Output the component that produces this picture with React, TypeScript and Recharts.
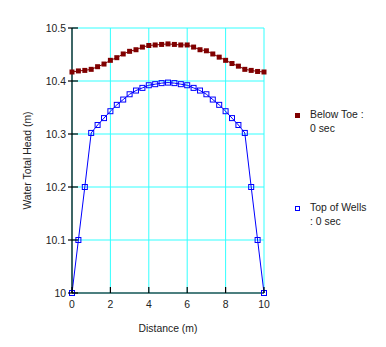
import { LineChart, Line, XAxis, YAxis, CartesianGrid } from "recharts";

// Distance along the section (m)
const distance = [
  0, 0.333, 0.667, 1, 1.333, 1.667, 2, 2.333, 2.667, 3, 3.333, 3.667, 4, 4.333, 4.667, 5,
  5.333, 5.667, 6, 6.333, 6.667, 7, 7.333, 7.667, 8, 8.333, 8.667, 9, 9.333, 9.667, 10,
];

// Water total head (m) below the toe at 0 sec
const belowToe = [
  10.417, 10.419, 10.42, 10.422, 10.427, 10.432, 10.439, 10.444, 10.451, 10.456, 10.459,
  10.464, 10.467, 10.468, 10.469, 10.47, 10.469, 10.468, 10.468, 10.464, 10.459, 10.457,
  10.451, 10.445, 10.439, 10.433, 10.428, 10.422, 10.42, 10.418, 10.417,
];

// Water total head (m) at the top of the wells at 0 sec
const topOfWells = [
  10.0, 10.1, 10.2, 10.302, 10.317, 10.33, 10.343, 10.355, 10.365, 10.375, 10.382, 10.387,
  10.392, 10.394, 10.396, 10.397, 10.396, 10.394, 10.392, 10.387, 10.382, 10.375, 10.365,
  10.355, 10.343, 10.33, 10.317, 10.302, 10.2, 10.1, 10.0,
];

const xTicks = [0, 2, 4, 6, 8, 10];
const yTicks = [10, 10.1, 10.2, 10.3, 10.4, 10.5];

const seriesNames = ["Below Toe :", "Top of Wells"];
const seriesTimes = ["0 sec", ": 0 sec"];

const chartData = distance.map((d, i) => ({
  x: d,
  belowToe: belowToe[i],
  topOfWells: topOfWells[i],
}));

const FONT = "Arial, 'Liberation Sans', sans-serif";
const TEXT = "#222";

const fmt = (v: number) => String(Number(v.toFixed(1)));

function YTick(props: any) {
  const { x, y, payload } = props;
  const axisX = x + 6;
  return (
    <g>
      <line x1={axisX - 4} x2={axisX + 6} y1={y} y2={y} stroke="#000" strokeWidth={1.2} />
      <text x={x} y={y} dy="0.35em" textAnchor="end" fontSize={10.4} fontFamily={FONT} fill={TEXT}>
        {fmt(payload.value)}
      </text>
    </g>
  );
}

function XTick(props: any) {
  const { x, y, payload } = props;
  const axisY = y - 8;
  return (
    <g>
      <line x1={x} x2={x} y1={axisY} y2={axisY - 6} stroke="#000" strokeWidth={1.2} />
      <text x={x} y={y} dy="0.71em" textAnchor="middle" fontSize={10.4} fontFamily={FONT} fill={TEXT}>
        {payload.value}
      </text>
    </g>
  );
}

function FilledSquare(props: any) {
  const { cx, cy } = props;
  if (cx == null || cy == null) return null;
  return <rect x={cx - 2.5} y={cy - 2.5} width={5} height={5} fill="#800000" />;
}

function HollowSquare(props: any) {
  const { cx, cy } = props;
  if (cx == null || cy == null) return null;
  return (
    <rect x={cx - 2.5} y={cy - 2.5} width={5} height={5} fill="none" stroke="#0000ff" strokeWidth={1} />
  );
}

function ChartLegend() {
  const itemStyle = { position: "relative" as const, paddingLeft: 20, lineHeight: "14px" };
  const text = { fontSize: 10.4, fontFamily: FONT, color: TEXT };
  return (
    <div style={{ position: "absolute", left: 290, top: 108, width: 96 }}>
      <div style={itemStyle}>
        <span
          style={{ position: "absolute", left: 5, top: 5, width: 5, height: 5, background: "#800000" }}
        />
        <div style={text}>{seriesNames[0]}</div>
        <div style={text}>{seriesTimes[0]}</div>
      </div>
      <div style={{ ...itemStyle, marginTop: 65 }}>
        <span
          style={{
            position: "absolute",
            left: 5,
            top: 5,
            width: 3,
            height: 3,
            border: "1px solid #0000ff",
          }}
        />
        <div style={text}>{seriesNames[1]}</div>
        <div style={text}>{seriesTimes[1]}</div>
      </div>
    </div>
  );
}

export default function App() {
  return (
    <div style={{ position: "absolute", left: 0, top: 0, width: 386, height: 347, background: "#fff" }}>
      <LineChart
        width={386}
        height={347}
        data={chartData}
        margin={{ top: 28, right: 122, bottom: 0, left: 0 }}
      >
        <CartesianGrid stroke="#33ffff" strokeWidth={1} />
        <XAxis
          dataKey="x"
          type="number"
          domain={[0, 10]}
          ticks={xTicks}
          height={54}
          tickSize={4}
          tickMargin={4}
          tickLine={false}
          axisLine={{ stroke: "#000", strokeWidth: 1.2 }}
          tick={<XTick />}
          label={{
            value: "Distance (m)",
            position: "insideBottom",
            offset: 15,
            fontSize: 10.4,
            fontFamily: FONT,
            fill: TEXT,
          }}
        />
        <YAxis
          type="number"
          domain={[10, 10.5]}
          ticks={yTicks}
          width={72}
          tickSize={4}
          tickMargin={2}
          tickLine={false}
          axisLine={{ stroke: "#000", strokeWidth: 1.2 }}
          tick={<YTick />}
          label={{
            value: "Water Total Head (m)",
            angle: -90,
            position: "insideLeft",
            offset: 27,
            fontSize: 10.4,
            fontFamily: FONT,
            fill: TEXT,
            style: { textAnchor: "middle" },
          }}
        />
        <Line
          dataKey="belowToe"
          name="Below Toe"
          stroke="#800000"
          strokeWidth={1}
          dot={<FilledSquare />}
          activeDot={false}
          isAnimationActive={false}
        />
        <Line
          dataKey="topOfWells"
          name="Top of Wells"
          stroke="#0000ff"
          strokeWidth={1}
          dot={<HollowSquare />}
          activeDot={false}
          isAnimationActive={false}
        />
      </LineChart>
      <ChartLegend />
    </div>
  );
}
